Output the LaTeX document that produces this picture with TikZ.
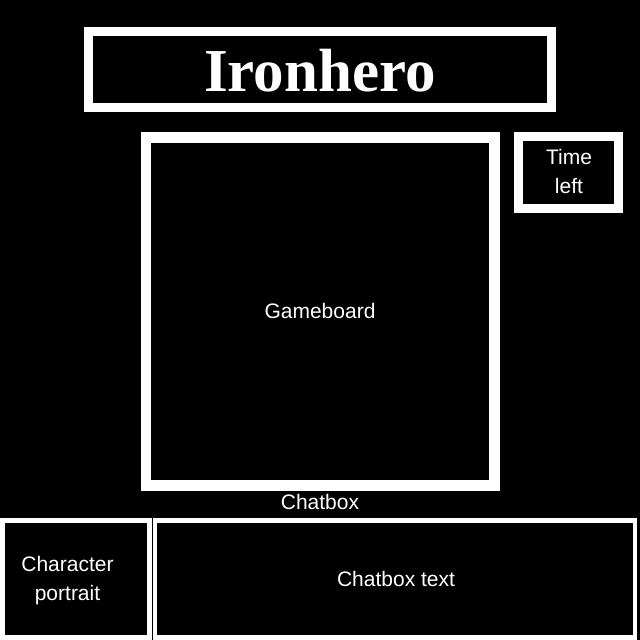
\documentclass[tikz,border=0pt]{standalone}
\usepackage{fontspec}
\setmainfont{Liberation Sans}
\newfontfamily\titlefont{Liberation Serif}
\begin{document}
\begin{tikzpicture}[x=1pt,y=-1pt,
  panel/.style={draw=white,fill=black},
  lbl/.style={text=white,font=\fontsize{21}{29}\selectfont,align=center,inner sep=0pt}]
\fill[black] (0,0) rectangle (640,640);
\useasboundingbox (0,0) rectangle (640,640);
% title
\draw[panel,line width=9pt] (88.5,31.5) rectangle (551.5,107.5);
\node[text=white,font=\titlefont\bfseries\fontsize{61}{61}\selectfont,inner sep=0pt] (title) at (320,71) {Ironhero};
% gameboard
\draw[panel,line width=10.5pt] (146,137.5) rectangle (494.5,485.5);
\node[lbl] (game) at (320,311) {Gameboard};
% time left
\draw[panel,line width=9pt] (518.5,136.5) rectangle (618,208.5);
\node[lbl] (time) at (569,171.5) {Time\\left};
% chatbox label
\node[lbl] (chat) at (320,502) {Chatbox};
% bottom boxes
\draw[panel,line width=5pt] (2.5,520.5) rectangle (149.5,637.5);
\draw[panel,line width=4.5pt] (155,520.5) rectangle (635,637.5);
\node[lbl] (portrait) at (67.5,580.5) {Character\\portrait};
\node[lbl] (chattext) at (396,579) {Chatbox text};
\end{tikzpicture}
\end{document}
